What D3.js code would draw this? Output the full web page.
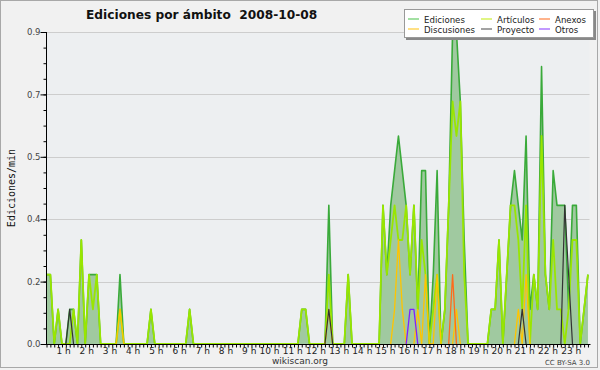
<!DOCTYPE html>
<html>
<head>
<meta charset="utf-8">
<script src="https://cdn.jsdelivr.net/npm/d3@7"></script>
<style>
  body { margin: 0; background: #f1f1f1; }
  svg { display: block; }
</style>
</head>
<body>
<div id="viz"></div>
<script>
// edits per minute, one value per 10 minute slot starting at 00:00
const ediciones = [
  0.2,0.2,0,0.1,0,0,0.1,0.1,0,0.3,0,0.2,0.2,0.2,0,0,0,0,0,0.2,
  0,0,0,0,0,0,0,0.1,0,0,0,0,0,0,0,0,0,0.1,0,0,
  0,0,0,0,0,0,0,0,0,0,0,0,0,0,0,0,0,0,0,0,
  0,0,0,0,0,0,0.1,0.1,0,0,0,0,0,0.4,0,0,0,0,0.2,0,
  0,0,0,0,0,0,0,0.4,0.2,0.4,0.5,0.6,0.5,0.4,0.2,0.4,0.1,0.5,0.5,0,
  0.2,0.5,0,0.1,0.4,0.9,0.9,0.7,0.3,0,0,0,0,0,0,0.1,0.1,0.3,0,0.2,
  0.4,0.5,0.4,0.3,0.6,0.1,0.2,0.1,0.8,0.2,0.1,0.5,0.4,0.4,0.4,0.1,0.4,0.4,0,0.1,
  0.2
];
const articulos = [
  0.2,0.2,0,0.1,0,0,0,0.1,0,0.3,0,0.2,0.1,0.2,0,0,0,0,0,0.1,
  0,0,0,0,0,0,0,0.1,0,0,0,0,0,0,0,0,0,0.1,0,0,
  0,0,0,0,0,0,0,0,0,0,0,0,0,0,0,0,0,0,0,0,
  0,0,0,0,0,0,0.1,0.1,0,0,0,0,0,0.2,0,0,0,0,0.2,0,
  0,0,0,0,0,0,0,0.4,0.2,0.3,0.4,0.3,0.3,0.4,0.2,0.4,0.1,0.3,0.2,0,
  0.1,0.2,0,0.1,0.4,0.7,0.6,0.7,0.2,0,0,0,0,0,0,0.1,0.1,0.3,0,0.2,
  0.4,0.4,0.3,0.1,0.4,0,0.2,0.1,0.6,0.2,0.1,0.3,0.1,0.1,0,0.1,0.3,0.3,0,0.1,
  0.2
];
// sparse series: [slot, value]
const anexos = [[105, 0.2]];
const discusiones = [[19, 0.1], [73, 0.1], [90, 0.1], [91, 0.3], [92, 0.1], [96, 0.1],
  [98, 0.2], [101, 0.2], [106, 0.1], [122, 0.1], [124, 0.2]];
const proyecto = [[6, 0.1], [73, 0.1], [123, 0.1], [134, 0.4], [135, 0.2]];
const otros = [[94, 0.1], [95, 0.1]];

const yTicks = [0, 0.18, 0.36, 0.54, 0.72, 0.9];
const yTickLabels = ["0.0", "0.2", "0.4", "0.5", "0.7", "0.9"];
const hourLabels = ["1 h","2 h","3 h","4 h","5 h","6 h","7 h","8 h","9 h","10 h","11 h","12 h",
  "13 h","14 h","15 h","16 h","17 h","18 h","19 h","20 h","21 h","22 h","23 h"];

const legendItems = [
  { name: "Ediciones", color: "#66cc66" },
  { name: "Artículos", color: "#ccee33" },
  { name: "Anexos", color: "#ff8040" },
  { name: "Discusiones", color: "#ffcc33" },
  { name: "Proyecto", color: "#666666" },
  { name: "Otros", color: "#9955ff" }
];

const width = 600;
const height = 370;
const nSlots = ediciones.length;

function dense(pairs) {
  const out = new Array(nSlots).fill(0);
  pairs.forEach(p => { out[p[0]] = p[1]; });
  return out;
}

const svg = d3.select("#viz")
  .append("svg")
  .attr("width", width)
  .attr("height", height)
  .style("font-family", "DejaVu Sans");

svg.append("rect")
  .attr("x", 0.5).attr("y", 0.5)
  .attr("width", 597).attr("height", 367)
  .attr("fill", "#f1f1f1")
  .attr("stroke", "#a8a8a8");

// hours -> px
const x = d3.scaleLinear().domain([0, 23.4]).range([46.5, 589.5]);
const y = d3.scaleLinear().domain([0, 0.9]).range([344, 32]);
const xs = i => x(i / 6);

svg.append("rect")
  .attr("x", x(0)).attr("y", y(0.9))
  .attr("width", x(23.4) - x(0)).attr("height", y(0) - y(0.9))
  .attr("fill", "#edeff1");

// grid
svg.append("g")
  .selectAll("line")
  .data(yTicks.slice(1))
  .enter().append("line")
  .attr("x1", x(0)).attr("x2", x(23.4))
  .attr("y1", d => Math.round(y(d)) + 0.5)
  .attr("y2", d => Math.round(y(d)) + 0.5)
  .attr("stroke", "#cdcdcd");

const plot = svg.append("g");

plot.append("path")
  .datum(ediciones)
  .attr("fill", "#a0c9a0")
  .attr("d", d3.area()
    .x((d, i) => xs(i))
    .y0(y(0))
    .y1(d => y(d)));

const line = d3.line().x((d, i) => xs(i)).y(d => y(d));

const series = [
  { values: ediciones, color: "#3aaa3a", w: 1.6 },
  { values: articulos, color: "#99e600", w: 1.8 },
  { values: dense(discusiones), color: "#ffc400", w: 1.3 },
  { values: dense(anexos), color: "#ff6a1a", w: 1.3 },
  { values: dense(proyecto), color: "#333333", w: 1.2 },
  { values: dense(otros), color: "#8020ff", w: 1.3 }
];

series.forEach((s, k) => {
  // skip empty slots of sparse series so their zero line stays hidden
  const path = k < 2 ? line(s.values) : d3.line()
    .defined((d, i) => d > 0 || s.values[i - 1] > 0 || s.values[i + 1] > 0)
    .x((d, i) => xs(i)).y(d => y(d))(s.values);
  plot.append("path")
    .attr("fill", "none")
    .attr("stroke", s.color)
    .attr("stroke-width", s.w)
    .attr("stroke-linejoin", "round")
    .attr("d", path);
});

// x axis
const minor = d3.range(0, 141).map(i => i / 6);
svg.append("g")
  .attr("transform", `translate(0,${y(0) + 0.5})`)
  .call(d3.axisBottom(x).tickValues(minor).tickSize(3).tickFormat(""))
  .call(g => g.select(".domain").attr("d", `M${x(0)},0H${x(23.4) + 1}`).attr("stroke", "#000"));

svg.append("g")
  .selectAll("text")
  .data(hourLabels)
  .enter().append("text")
  .attr("x", (d, i) => x(i + 1) + 1)
  .attr("y", 354)
  .attr("text-anchor", "end")
  .attr("font-size", 9)
  .attr("fill", "#222")
  .text(d => d);

// y axis
const yMinor = d3.range(0, 21).map(i => i * 0.045);
svg.append("g")
  .attr("transform", `translate(${x(0)},0)`)
  .call(d3.axisLeft(y).tickValues(yMinor).tickSize(3).tickFormat(""))
  .call(g => g.select(".domain").remove());

svg.append("g")
  .attr("transform", `translate(${x(0)},0)`)
  .call(d3.axisLeft(y).tickValues(yTicks).tickSize(6)
    .tickFormat((d, i) => yTickLabels[i]))
  .call(g => g.select(".domain").attr("d", `M0,${y(0.9)}V${y(0) + 1}`).attr("stroke", "#000"))
  .call(g => g.selectAll("text").attr("font-size", 8.5).attr("fill", "#444")
    .attr("font-family", "DejaVu Sans").attr("x", -6));

// titles
svg.append("text")
  .attr("x", 86).attr("y", 19)
  .attr("font-size", 12.2)
  .attr("font-weight", "bold")
  .attr("fill", "#111")
  .text("Ediciones por ámbito  2008-10-08")
  .style("white-space", "pre");

svg.append("text")
  .attr("transform", `translate(15,${y(0.45)}) rotate(-90)`)
  .attr("text-anchor", "middle")
  .attr("font-family", "DejaVu Sans Mono")
  .attr("font-size", 10)
  .attr("fill", "#111")
  .text("Ediciones/min");

svg.append("text")
  .attr("x", 300).attr("y", 364)
  .attr("text-anchor", "middle")
  .attr("font-size", 9)
  .attr("fill", "#333")
  .text("wikiscan.org");

svg.append("text")
  .attr("x", 590).attr("y", 365)
  .attr("text-anchor", "end")
  .attr("font-size", 7)
  .attr("fill", "#444")
  .text("CC BY-SA 3.0");

// legend
const lg = svg.append("g").attr("transform", "translate(404,9)");
lg.append("rect").attr("x", 2).attr("y", 2).attr("width", 190).attr("height", 29).attr("fill", "#888");
lg.append("rect").attr("x", 0.5).attr("y", 0.5).attr("width", 189).attr("height", 28)
  .attr("fill", "#fff").attr("stroke", "#999");

const colX = [4, 77, 135];
const entry = lg.selectAll("g.entry")
  .data(legendItems)
  .enter().append("g")
  .attr("class", "entry")
  .attr("transform", (d, i) => `translate(${colX[i % 3]},${i < 3 ? 10 : 20})`);

entry.append("line")
  .attr("x1", 0).attr("x2", 11)
  .attr("stroke", d => d.color)
  .attr("stroke-width", 1.2);

entry.append("text")
  .attr("x", 16).attr("y", 3.5)
  .attr("font-size", 8.6)
  .attr("fill", "#222")
  .text(d => d.name);
</script>
</body>
</html>
